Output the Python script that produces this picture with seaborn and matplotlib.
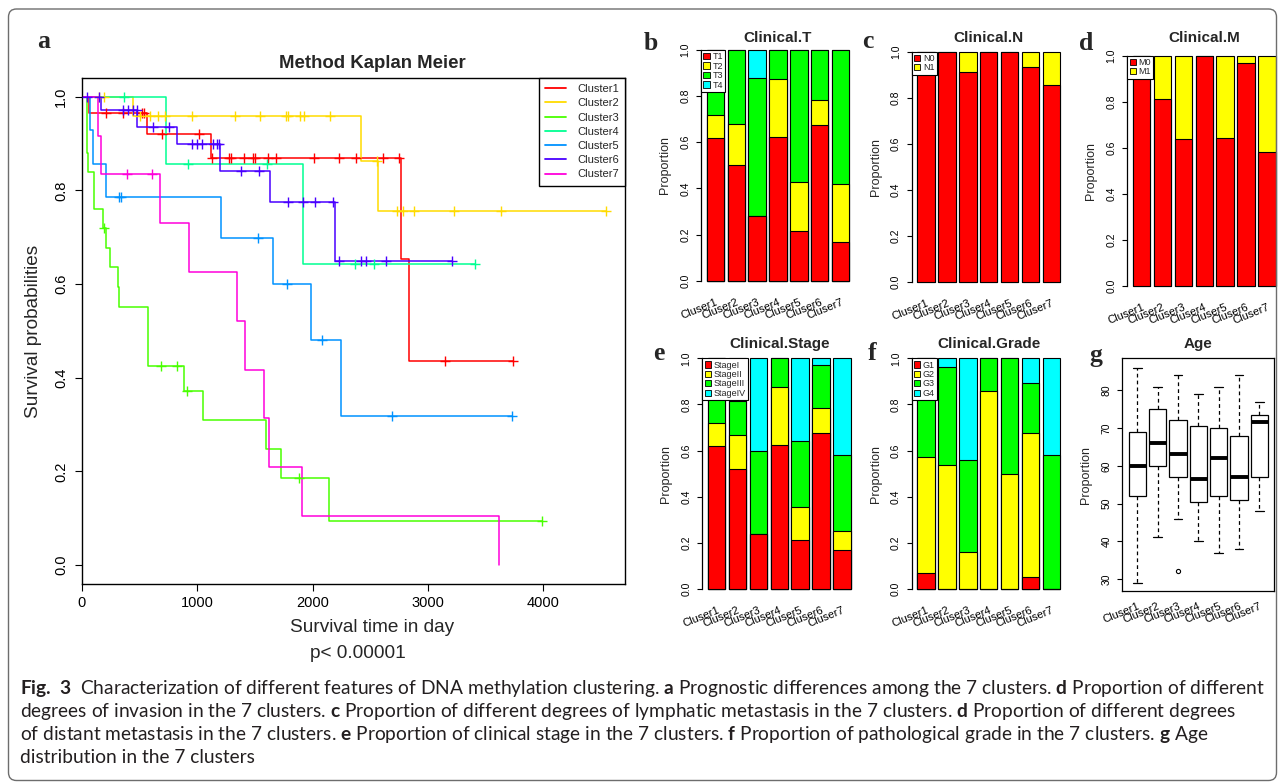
import numpy as np
import pandas as pd
import matplotlib
matplotlib.use("Agg")
import matplotlib.pyplot as plt
import seaborn as sns
from matplotlib.patches import FancyBboxPatch, Patch
from matplotlib.lines import Line2D
from matplotlib.transforms import IdentityTransform

sns.set_style("white")
plt.rcParams["font.family"] = ["Liberation Sans", "DejaVu Sans"]
plt.rcParams["mathtext.fontset"] = "custom"
plt.rcParams["mathtext.rm"] = "Lato"
plt.rcParams["mathtext.bf"] = "Lato:bold"
plt.rcParams["axes.edgecolor"] = "black"
plt.rcParams["xtick.color"] = "black"
plt.rcParams["ytick.color"] = "black"

# ---------------- data ----------------
clusters = ["Cluser1", "Cluser2", "Cluser3", "Cluser4", "Cluser5", "Cluser6", "Cluser7"]
km_labels = ["Cluster1", "Cluster2", "Cluster3", "Cluster4", "Cluster5", "Cluster6", "Cluster7"]
km_colors = ["#FF0000", "#FFDB00", "#49FF00", "#00FF92", "#0092FF", "#4900FF", "#FF00DB"]

# Kaplan-Meier: step times, survival after each step, last follow-up, censored times
c1_time = [0, 64, 561, 1119, 2765, 2835]
c1_surv = [1.0, 0.966, 0.920, 0.870, 0.653, 0.435]
c1_end = 3737
c1_cens = [208, 359, 518, 538, 691, 1015, 1131, 1278, 1293, 1406, 1487, 1501, 1617, 1683,
           2013, 2233, 2377, 2609, 2753, 3147, 3737]

c2_time = [0, 445, 2420, 2566]
c2_surv = [1.0, 0.959, 0.863, 0.755]
c2_end = 4544
c2_cens = [148, 191, 503, 590, 662, 720, 952, 1328, 1544, 1767, 1790, 1892, 1926, 2152,
           2557, 2730, 2782, 2881, 3228, 3639, 4544]

c3_time = [0, 43, 55, 104, 182, 211, 240, 312, 321, 573, 884, 1046, 1595, 1723, 2145]
c3_surv = [1.0, 0.880, 0.840, 0.760, 0.720, 0.678, 0.636, 0.593, 0.552, 0.424, 0.371,
           0.309, 0.247, 0.185, 0.093]
c3_end = 3990
c3_cens = [194, 685, 820, 911, 1882, 3990]

c4_time = [0, 726, 1914]
c4_surv = [1.0, 0.857, 0.643]
c4_end = 3413
c4_cens = [367, 923, 1608, 2369, 2534, 3413]

c5_time = [0, 69, 98, 208, 1203, 1660, 1990, 2243]
c5_surv = [1.0, 0.929, 0.857, 0.786, 0.699, 0.599, 0.481, 0.319]
c5_end = 3734
c5_cens = [324, 338, 1524, 1776, 2084, 2691, 3734]

c6_time = [0, 165, 480, 827, 1195, 1628, 2195]
c6_surv = [1.0, 0.971, 0.936, 0.898, 0.841, 0.776, 0.649]
c6_end = 3208
c6_cens = [40, 148, 353, 402, 440, 475, 612, 757, 957, 995, 1039, 1140, 1169, 1185, 1377,
           1536, 1790, 1920, 2024, 2181, 2233, 2418, 2464, 2638, 3208]

c7_time = [0, 136, 165, 680, 931, 1342, 1417, 1582, 1622, 1912, 3616]
c7_surv = [1.0, 0.917, 0.834, 0.730, 0.625, 0.521, 0.417, 0.313, 0.209, 0.104, 0.0]
c7_end = 3616
c7_cens = [388, 604]

# stacked proportions (bottom layer first)
t_T1 = [0.62, 0.50, 0.28, 0.625, 0.214, 0.675, 0.167]
t_T2 = [0.10, 0.18, 0.00, 0.250, 0.215, 0.108, 0.250]
t_T3 = [0.28, 0.32, 0.60, 0.125, 0.571, 0.217, 0.583]
t_T4 = [0.00, 0.00, 0.12, 0.000, 0.000, 0.000, 0.000]

n_N0 = [1.0, 1.0, 0.91, 1.0, 1.0, 0.933, 0.857]
n_N1 = [0.0, 0.0, 0.09, 0.0, 0.0, 0.067, 0.143]

m_M0 = [1.0, 0.81, 0.64, 1.0, 0.643, 0.97, 0.583]
m_M1 = [0.0, 0.19, 0.36, 0.0, 0.357, 0.03, 0.417]

s_I = [0.62, 0.520, 0.24, 0.625, 0.214, 0.675, 0.167]
s_II = [0.10, 0.147, 0.00, 0.250, 0.143, 0.108, 0.083]
s_III = [0.28, 0.147, 0.36, 0.125, 0.286, 0.189, 0.333]
s_IV = [0.00, 0.186, 0.40, 0.000, 0.357, 0.028, 0.417]

g_G1 = [0.071, 0.000, 0.00, 0.000, 0.0, 0.054, 0.000]
g_G2 = [0.500, 0.536, 0.16, 0.857, 0.5, 0.622, 0.000]
g_G3 = [0.429, 0.428, 0.40, 0.143, 0.5, 0.216, 0.583]
g_G4 = [0.000, 0.036, 0.44, 0.000, 0.0, 0.108, 0.417]

# age box summaries
age_low = [29, 41, 46, 40, 37, 38, 48]
age_q1 = [52, 60, 57, 50.5, 52, 51, 57]
age_med = [60, 66, 63, 56.5, 62, 57, 71.5]
age_q3 = [69, 75, 72, 70.5, 70, 68, 73.5]
age_high = [86, 81, 84, 79, 81, 84, 77]
age_out = [None, None, 32, None, None, None, None]

bar_colors = ["#FF0000", "#FFFF00", "#00FF00", "#00FFFF"]

# ---------------- figure ----------------
W, H = 1285, 782
fig = plt.figure(figsize=(W / 100, H / 100), dpi=100)


def px_axes(l, t, r, b):
    return fig.add_axes([l / W, 1 - b / H, (r - l) / W, (b - t) / H])


def ftext(x, y, s, **kw):
    return fig.text(x / W, 1 - y / H, s, **kw)


frame = FancyBboxPatch((8.5, 1.5), W - 17, H - 10.5, boxstyle="round,pad=0,rounding_size=8",
                       transform=IdentityTransform(), facecolor="none", edgecolor="#6d6d6d", lw=1.0)
fig.add_artist(frame)

# ---- a: Kaplan Meier ----
ax = px_axes(82, 78, 625, 583.7)
km_sets = [(c1_time, c1_surv, c1_end, c1_cens), (c2_time, c2_surv, c2_end, c2_cens),
           (c3_time, c3_surv, c3_end, c3_cens), (c4_time, c4_surv, c4_end, c4_cens),
           (c5_time, c5_surv, c5_end, c5_cens), (c6_time, c6_surv, c6_end, c6_cens),
           (c7_time, c7_surv, c7_end, c7_cens)]
for (tt, ss, end, cens), col in zip(km_sets, km_colors):
    xs = tt + [end]
    ys = ss + [ss[-1]]
    sns.lineplot(x=xs, y=ys, drawstyle="steps-post", estimator=None, sort=False,
                 color=col, linewidth=1.1, ax=ax)
    idx = np.searchsorted(tt, cens, side="right") - 1
    sns.scatterplot(x=cens, y=np.array(ss)[idx], marker="+", s=50, color=col,
                    linewidth=1.0, ax=ax, zorder=3)
ax.set_xlim(0, 4711)
ax.set_ylim(-0.04, 1.04)
ax.set_xticks([0, 1000, 2000, 3000, 4000])
ax.set_yticks([0, 0.2, 0.4, 0.6, 0.8, 1.0])
ax.set_yticklabels(["0.0", "0.2", "0.4", "0.6", "0.8", "1.0"], rotation=90, va="center")
ax.tick_params(direction="out", length=5, width=0.8, labelsize=10.5, left=True, bottom=True)
ax.tick_params(axis="y", pad=5)
ax.tick_params(axis="x", pad=4)
ax.set_xlabel("")
ax.set_ylabel("")
for sp in ax.spines.values():
    sp.set_linewidth(1.0)
handles = [Line2D([0], [0], color=c, lw=1.3) for c in km_colors]
leg = ax.legend(handles, km_labels, loc="upper right", borderaxespad=0, frameon=True,
                fancybox=False, edgecolor="black", fontsize=8, handlelength=1.9,
                handletextpad=1.0, labelspacing=0.38, borderpad=0.55, framealpha=1)
leg.get_frame().set_linewidth(1.0)
ftext(372, 64, "Method Kaplan Meier", ha="center", va="center", fontsize=13.4, fontweight="bold")
ftext(372, 627, "Survival time in day", ha="center", va="center", fontsize=13.7)
ftext(357.5, 653, "p< 0.00001", ha="center", va="center", fontsize=13.7)
ftext(34, 331, "Survival probabilities", ha="center", va="center", fontsize=13.7, rotation=90)

# ---- stacked bar panels ----
SP = 20.87


def stacked_panel(axis_x, y1, y0, layers, names, title, title_y):
    h = y0 - y1
    ax = px_axes(axis_x, y1 - 0.04 * h, axis_x + 7.38 * SP, y0 + 0.04 * h)
    tops = np.cumsum(np.array(layers), axis=0)
    for k in reversed(range(len(layers))):
        sns.barplot(x=clusters, y=tops[k], color=bar_colors[k], saturation=1, width=0.833,
                    edgecolor="black", linewidth=0.8, ax=ax)
    ax.set_xlim(-0.69, 6.69)
    ax.set_ylim(-0.04, 1.04)
    for s in ["top", "right", "bottom"]:
        ax.spines[s].set_visible(False)
    ax.spines["left"].set_bounds(0, 1)
    ax.spines["left"].set_linewidth(0.9)
    ax.set_yticks([0, 0.2, 0.4, 0.6, 0.8, 1.0])
    ax.set_yticklabels(["0.0", "0.2", "0.4", "0.6", "0.8", "1.0"], rotation=90, va="center")
    ax.tick_params(axis="y", direction="out", length=3.3, width=0.8, labelsize=7.5, pad=4.5,
                   left=True)
    ax.set_xticks(range(7))
    ax.set_xticklabels(clusters, rotation=22, ha="right", rotation_mode="anchor", fontsize=8)
    ax.tick_params(axis="x", length=0, pad=5)
    ax.set_xlabel("")
    ax.set_ylabel("")
    hs = [Patch(facecolor=bar_colors[k], edgecolor="black", lw=0.6) for k in range(len(names))]
    lg = ax.legend(hs, names, loc="upper left", bbox_to_anchor=(0, 1.04 / 1.08),
                   borderaxespad=0, fontsize=6.5, handlelength=0.7, handleheight=0.7,
                   handletextpad=0.3, labelspacing=0.05, borderpad=0.25, fancybox=False,
                   edgecolor="black", framealpha=1)
    lg.get_frame().set_linewidth(0.8)
    ftext(axis_x + 3.69 * SP, title_y, title, ha="center", va="center", fontsize=11,
          fontweight="bold")
    ftext(axis_x - 36, (y1 + y0) / 2, "Proportion", ha="center", va="center", fontsize=9,
          rotation=90)
    return ax


stacked_panel(701, 50, 280.7, [t_T1, t_T2, t_T3, t_T4], ["T1", "T2", "T3", "T4"], "Clinical.T", 37.5)
stacked_panel(911.7, 51.7, 281.7, [n_N0, n_N1], ["N0", "N1"], "Clinical.N", 37.5)
stacked_panel(1127.3, 55.7, 285.7, [m_M0, m_M1], ["M0", "M1"], "Clinical.M", 37.5)
stacked_panel(702.3, 358.3, 589, [s_I, s_II, s_III, s_IV],
              ["StageI", "StageII", "StageIII", "StageIV"], "Clinical.Stage", 344)
stacked_panel(911.7, 358.3, 589, [g_G1, g_G2, g_G3, g_G4], ["G1", "G2", "G3", "G4"],
              "Clinical.Grade", 344)

# ---- g: age boxplot ----
rows = []
for i, c in enumerate(clusters):
    lowest = age_out[i] if age_out[i] is not None else age_low[i]
    vals = [lowest, age_low[i], age_q1[i], age_med[i], age_med[i], age_med[i],
            age_q3[i], age_high[i], age_high[i]]
    rows += [(c, v) for v in vals]
age_df = pd.DataFrame(rows, columns=["cluster", "age"])

axg = px_axes(1122.3, 358.3, 1274.3, 591)
sns.boxplot(data=age_df, x="cluster", y="age", order=clusters, color="white", saturation=1,
            linecolor="black", linewidth=0.9, width=0.85, whis=1.5, ax=axg,
            whiskerprops=dict(linestyle=(0, (3, 2.5))),
            medianprops=dict(linewidth=2.8),
            flierprops=dict(marker="o", markerfacecolor="none", markeredgecolor="black",
                            markersize=3, markeredgewidth=0.8))
axg.set_xlim(-0.74, 6.74)
axg.set_ylim(26.82, 88.48)
axg.set_yticks([30, 40, 50, 60, 70, 80])
axg.set_yticklabels(["30", "40", "50", "60", "70", "80"], rotation=90, va="center")
axg.tick_params(axis="y", direction="out", length=3.3, width=0.8, labelsize=7.5, pad=4.5,
                left=True)
axg.set_xticks(range(7))
axg.set_xticklabels(clusters, rotation=22, ha="right", rotation_mode="anchor", fontsize=8)
axg.tick_params(axis="x", length=0, pad=7)
axg.set_xlabel("")
axg.set_ylabel("")
for sp in axg.spines.values():
    sp.set_linewidth(0.9)
ftext(1198.3, 344, "Age", ha="center", va="center", fontsize=11, fontweight="bold")
ftext(1086, 474.6, "Proportion", ha="center", va="center", fontsize=9, rotation=90)

# ---- panel letters ----
letters = [("a", 44, 48.3), ("b", 650.5, 50), ("c", 867.5, 48.3), ("d", 1086.5, 50),
           ("e", 659, 360), ("f", 872.5, 360), ("g", 1096, 362)]
for s, x, y in letters:
    ftext(x, y, s, ha="center", va="baseline", fontsize=18.5, fontweight="bold",
          family=["Liberation Serif", "DejaVu Serif"])

# ---- caption ----
cap_lines = [
    r"$\mathbf{Fig.\;3}$  Characterization of different features of DNA methylation clustering. "
    r"$\mathbf{a}$ Prognostic differences among the 7 clusters. $\mathbf{d}$ Proportion of different",
    r"degrees of invasion in the 7 clusters. $\mathbf{c}$ Proportion of different degrees of lymphatic "
    r"metastasis in the 7 clusters. $\mathbf{d}$ Proportion of different degrees",
    r"of distant metastasis in the 7 clusters. $\mathbf{e}$ Proportion of clinical stage in the 7 "
    r"clusters. $\mathbf{f}$ Proportion of pathological grade in the 7 clusters. $\mathbf{g}$ Age",
    "distribution in the 7 clusters",
]
cap_y = [694, 717, 740, 763]
cap_texts = [ftext(20, y, s, ha="left", va="baseline", fontsize=12, family="Lato",
                   color="#231f20") for s, y in zip(cap_lines, cap_y)]
fig.canvas.draw()
w1 = cap_texts[0].get_window_extent().width
fs = 12 * 1245 / w1
for t in cap_texts:
    t.set_fontsize(fs)

fig.savefig("out.png", dpi=100)
